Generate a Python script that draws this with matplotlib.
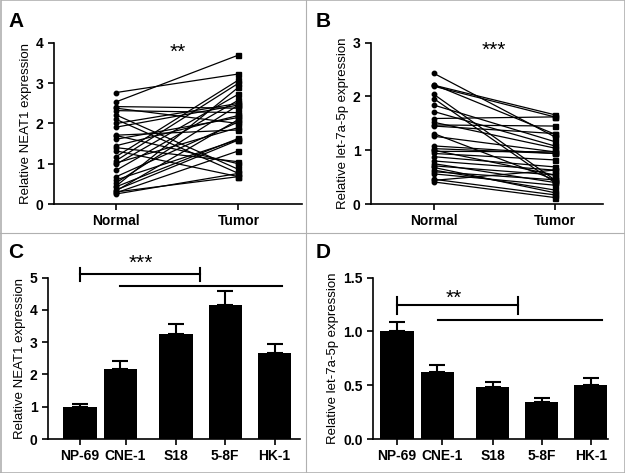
import matplotlib
matplotlib.use("Agg")
import matplotlib.pyplot as plt
from matplotlib.lines import Line2D
import numpy as np

plt.rcParams['font.family'] = ['Liberation Sans', 'DejaVu Sans']

# Panel A: paired NEAT1 expression (normal vs tumor)
neat1_normal = [2.77, 2.54, 2.42, 2.32, 2.21, 2.10, 1.91, 1.71, 1.61, 1.40,
                1.32, 1.18, 1.08, 0.99, 0.84, 0.68, 0.53, 0.43, 0.35, 0.28,
                0.25, 0.30, 1.45, 2.00, 0.45, 1.02, 0.33, 1.70, 2.38, 0.60]
neat1_tumor = [3.23, 3.70, 2.38, 2.27, 0.86, 0.76, 2.46, 1.84, 2.15, 1.05,
               0.68, 3.08, 3.00, 2.73, 2.58, 2.04, 2.46, 1.63, 1.59, 1.32,
               0.76, 0.68, 2.20, 2.50, 2.90, 1.90, 2.10, 1.00, 2.00, 1.60]

# Panel B: paired let-7a-5p expression
let7_normal = [2.43, 2.21, 2.19, 2.04, 1.96, 1.84, 1.72, 1.59, 1.47, 1.45,
               1.31, 1.26, 1.08, 1.03, 0.94, 0.88, 0.80, 0.71, 0.63, 0.56,
               0.46, 0.41, 0.44, 0.98, 0.60, 1.00, 1.52, 0.75, 2.22, 0.68]
let7_tumor = [1.25, 1.66, 1.62, 0.45, 0.40, 1.16, 1.08, 1.62, 1.45, 1.31,
              0.45, 0.97, 0.94, 0.94, 0.82, 0.69, 0.63, 0.54, 0.26, 0.35,
              0.17, 0.12, 0.63, 0.97, 0.45, 0.54, 1.04, 0.40, 1.30, 0.21]

pair_labels = ['Normal', 'Tumor']

# Panels C/D: cell lines
cell_lines = ['NP-69', 'CNE-1', 'S18', '5-8F', 'HK-1']
neat1_mean = [1.00, 2.17, 3.24, 4.14, 2.67]
neat1_sem = [0.09, 0.25, 0.31, 0.45, 0.27]
let7_mean = [1.00, 0.62, 0.48, 0.34, 0.50]
let7_sem = [0.09, 0.07, 0.05, 0.04, 0.07]

W, H = 625, 473
fig = plt.figure(figsize=(W / 100, H / 100), dpi=100)


def add_ax(left, right, top, bottom):
    return fig.add_axes([left / W, 1 - bottom / H, (right - left) / W, (bottom - top) / H])


def style(ax):
    for s in ['top', 'right']:
        ax.spines[s].set_visible(False)
    for s in ['left', 'bottom']:
        ax.spines[s].set_linewidth(1.2)
    ax.tick_params(width=1.2, length=4, labelsize=10)
    for lab in ax.get_xticklabels() + ax.get_yticklabels():
        lab.set_fontweight('bold')


def paired(ax, normal, tumor):
    for n, t in zip(normal, tumor):
        ax.plot([0, 1], [n, t], color='black', lw=0.9, zorder=2)
    ax.plot(np.zeros(len(normal)), normal, 'o', color='black', ms=3.2, zorder=3)
    ax.plot(np.ones(len(tumor)), tumor, 's', color='black', ms=3.6, zorder=3)
    ax.set_xticks([0, 1])
    ax.set_xticklabels(pair_labels)


# A
axA = add_ax(54, 302, 43, 204)
paired(axA, neat1_normal, neat1_tumor)
axA.set_xlim(-0.51, 1.52)
axA.set_ylim(0, 4)
axA.set_yticks([0, 1, 2, 3, 4])
axA.set_ylabel('Relative NEAT1 expression', fontsize=9.5, labelpad=3)
axA.text(0.5, 3.78, '**', ha='center', va='center', fontsize=15)
style(axA)

# B
axB = add_ax(371, 603, 42.7, 204)
paired(axB, let7_normal, let7_tumor)
axB.set_xlim(-0.52, 1.4)
axB.set_ylim(0, 3)
axB.set_yticks([0, 1, 2, 3])
axB.set_ylabel('Relative let-7a-5p expression', fontsize=9.5, labelpad=3)
axB.text(0.5, 2.85, '***', ha='center', va='center', fontsize=15)
style(axB)

xpos = np.array([0, 1, 2.38, 3.6, 4.82])
label_pos = xpos + np.array([0, 0.13, 0, 0, 0])


def bars(ax, mean, sem):
    ax.bar(xpos, mean, width=0.83, color='black', zorder=2)
    ax.errorbar(xpos, mean, yerr=[np.zeros(len(sem)), sem], fmt='none',
                ecolor='black', elinewidth=1.5, capsize=5.5, capthick=1.5, zorder=1)
    ax.set_xticks(label_pos)
    ax.set_xticklabels(cell_lines)


# C
axC = add_ax(48, 300, 277.7, 439)
bars(axC, neat1_mean, neat1_sem)
axC.set_xlim(-0.79, 5.45)
axC.set_ylim(0, 5)
axC.set_yticks([0, 1, 2, 3, 4, 5])
axC.set_ylabel('Relative NEAT1 expression', fontsize=9.5, labelpad=3)
axC.plot([0, 2.98], [5.1, 5.1], color='black', lw=1.5, clip_on=False)
axC.plot([0, 0], [4.91, 5.29], color='black', lw=1.5, clip_on=False)
axC.plot([2.98, 2.98], [4.91, 5.29], color='black', lw=1.5, clip_on=False)
axC.plot([1.0, 5.0], [4.75, 4.75], color='black', lw=1.5, clip_on=False)
axC.text(1.5, 5.45, '***', ha='center', va='center', fontsize=15)
axC.tick_params(axis='x', length=0)
style(axC)

# D
axD = add_ax(373, 608, 277.7, 439)
bars(axD, let7_mean, let7_sem)
axD.set_xlim(-0.6, 5.25)
axD.set_ylim(0, 1.5)
axD.set_yticks([0, 0.5, 1.0, 1.5])
axD.set_yticklabels(['0.0', '0.5', '1.0', '1.5'])
axD.set_ylabel('Relative let-7a-5p expression', fontsize=9.5, labelpad=3)
axD.plot([0, 3.02], [1.25, 1.25], color='black', lw=1.5, clip_on=False)
axD.plot([0, 0], [1.16, 1.32], color='black', lw=1.5, clip_on=False)
axD.plot([3.02, 3.02], [1.16, 1.32], color='black', lw=1.5, clip_on=False)
axD.plot([1.03, 5.1], [1.11, 1.11], color='black', lw=1.5, clip_on=False)
axD.text(1.4, 1.31, '**', ha='center', va='center', fontsize=15)
axD.tick_params(axis='x', length=0)
style(axD)

# panel letters
for letter, x, y in [('A', 8, 21), ('B', 316, 21), ('C', 8, 252), ('D', 316, 252)]:
    fig.text(x / W, 1 - y / H, letter, fontsize=15, fontweight='bold', va='center')

# panel dividers and border
grey = '#b0b0b0'
fig.add_artist(Line2D([305.5 / W, 305.5 / W], [0, 1], color=grey, lw=0.8))
fig.add_artist(Line2D([0, 1], [1 - 233.5 / H, 1 - 233.5 / H], color=grey, lw=0.8))
fig.add_artist(Line2D([0.5 / W, 1 - 0.5 / W, 1 - 0.5 / W, 0.5 / W, 0.5 / W],
                      [0.5 / H, 0.5 / H, 1 - 0.5 / H, 1 - 0.5 / H, 0.5 / H],
                      color=grey, lw=1.2))

fig.savefig('out.png', dpi=100)
